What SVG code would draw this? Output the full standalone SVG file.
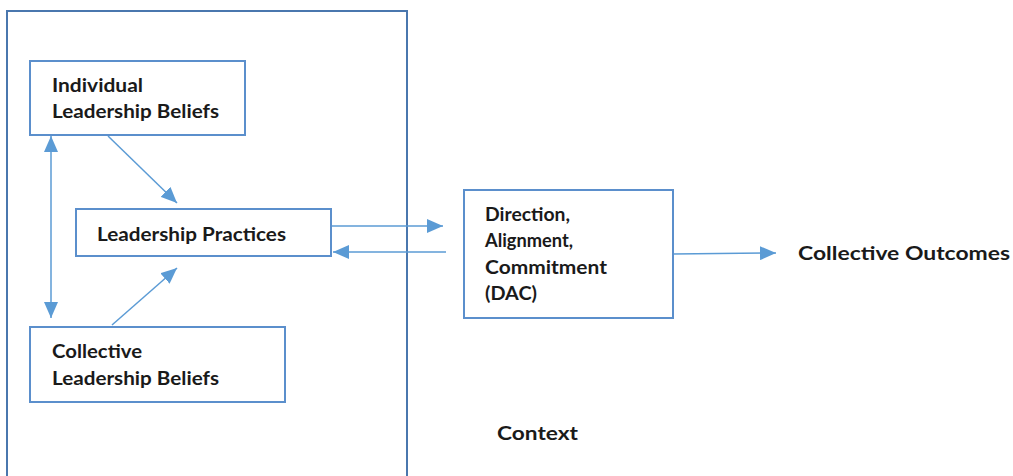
<svg xmlns="http://www.w3.org/2000/svg" width="1013" height="476" viewBox="0 0 1013 476">
<defs>
<style>
.box{fill:#fff;stroke:#5b8fcc;stroke-width:2}
.outer{fill:none;stroke:#4a77ae;stroke-width:2}
.lbl{font-family:Lato,"Liberation Sans",sans-serif;font-weight:bold;font-size:19.5px;fill:#1a1a1a}
.con{fill:none;stroke:#5b9bd5;stroke-width:1.5}
</style>
<marker id="ah" viewBox="0 0 16 14" refX="16" refY="7" markerWidth="16" markerHeight="14" markerUnits="userSpaceOnUse" orient="auto-start-reverse">
<path d="M0,0 L16,7 L0,14 Z" fill="#5b9bd5"/>
</marker>
</defs>
<rect width="1013" height="476" fill="#fff"/>
<g id="context">
<rect class="outer" x="7" y="11" width="400" height="480"/>
<text class="lbl" x="497" y="440" textLength="81" lengthAdjust="spacingAndGlyphs">Context</text>
</g>
<g id="connectors">
<line class="con" x1="108" y1="136" x2="177" y2="203" marker-end="url(#ah)"/>
<line class="con" x1="112" y1="325" x2="177" y2="268" marker-end="url(#ah)"/>
<line class="con" x1="51" y1="136" x2="51" y2="318" marker-start="url(#ah)" marker-end="url(#ah)"/>
<line class="con" x1="331" y1="226" x2="443" y2="226" marker-end="url(#ah)"/>
<line class="con" x1="446" y1="252" x2="333" y2="252" marker-end="url(#ah)"/>
<line class="con" x1="673" y1="254" x2="776" y2="253" marker-end="url(#ah)"/>
</g>
<g id="individual">
<rect class="box" x="30" y="61" width="215" height="74"/>
<text class="lbl" x="52" y="92" textLength="91" lengthAdjust="spacingAndGlyphs">Individual</text>
<text class="lbl" x="52" y="118" textLength="167" lengthAdjust="spacingAndGlyphs">Leadership Beliefs</text>
</g>
<g id="practices">
<rect class="box" x="76" y="209" width="255" height="47"/>
<text class="lbl" x="97" y="241" textLength="189" lengthAdjust="spacingAndGlyphs">Leadership Practices</text>
</g>
<g id="collective">
<rect class="box" x="30" y="327" width="255" height="75"/>
<text class="lbl" x="52" y="358" textLength="90" lengthAdjust="spacingAndGlyphs">Collective</text>
<text class="lbl" x="52" y="385" textLength="167" lengthAdjust="spacingAndGlyphs">Leadership Beliefs</text>
</g>
<g id="dac">
<rect class="box" x="464" y="190" width="209" height="128"/>
<text class="lbl" x="485" y="221" textLength="85" lengthAdjust="spacingAndGlyphs">Direction,</text>
<text class="lbl" x="485" y="247" textLength="88" lengthAdjust="spacingAndGlyphs">Alignment,</text>
<text class="lbl" x="485" y="274" textLength="122" lengthAdjust="spacingAndGlyphs">Commitment</text>
<text class="lbl" x="485" y="300" textLength="52" lengthAdjust="spacingAndGlyphs">(DAC)</text>
</g>
<g id="outcomes">
<text class="lbl" x="798" y="260" textLength="212" lengthAdjust="spacingAndGlyphs">Collective Outcomes</text>
</g>
</svg>
